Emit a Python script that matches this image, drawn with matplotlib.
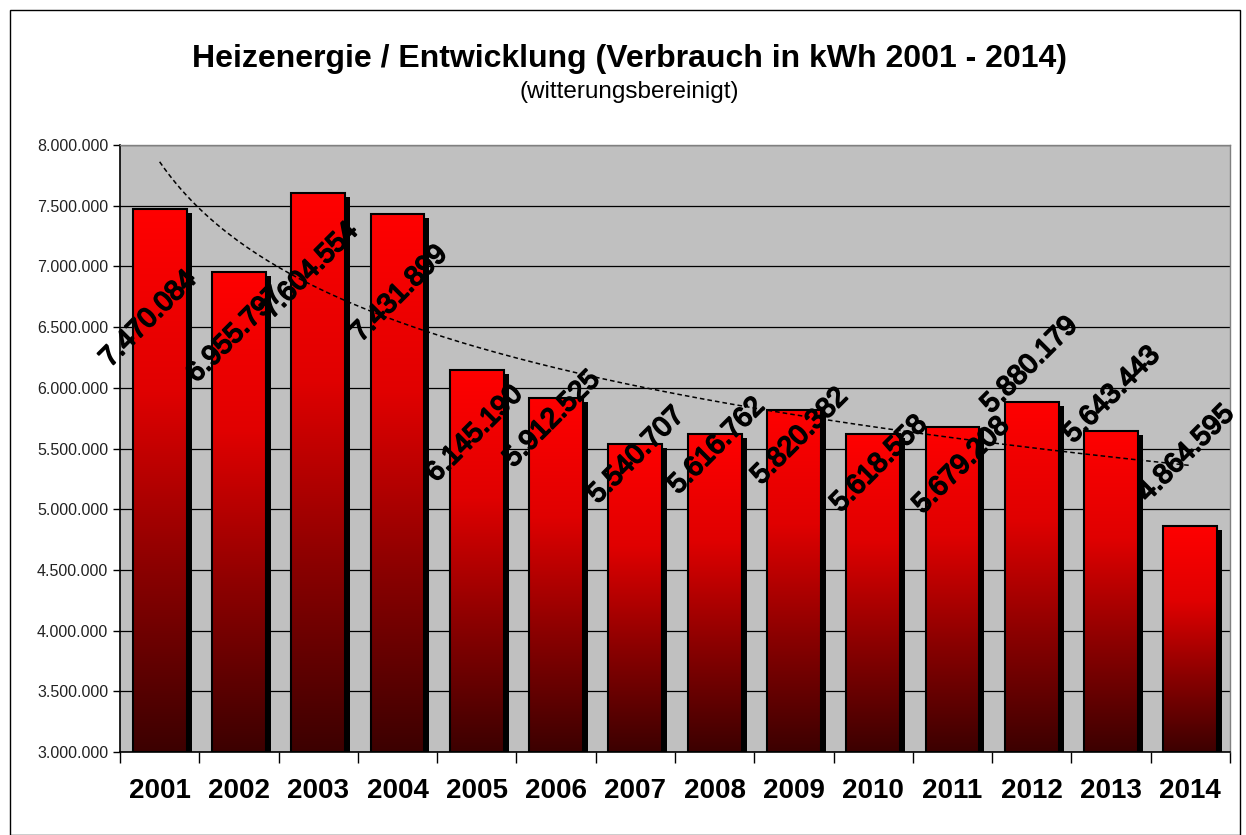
import numpy as np
import matplotlib
matplotlib.use("Agg")
import matplotlib.pyplot as plt
import matplotlib.patheffects as pe
from matplotlib.transforms import offset_copy
from matplotlib.colors import LinearSegmentedColormap
from matplotlib.ticker import FuncFormatter, MultipleLocator

years = ["2001", "2002", "2003", "2004", "2005", "2006", "2007",
         "2008", "2009", "2010", "2011", "2012", "2013", "2014"]
values = [7470084, 6955797, 7604554, 7431899, 6145190, 5912525, 5540707,
          5616762, 5820382, 5618558, 5679208, 5880179, 5643443, 4864595]
title = "Heizenergie / Entwicklung (Verbrauch in kWh 2001 - 2014)"
subtitle = "(witterungsbereinigt)"

plt.rcParams['font.family'] = ['Liberation Sans', 'DejaVu Sans']

fig = plt.figure(figsize=(12.46, 8.35), dpi=100)
ax = fig.add_axes([120/1246, 1-752/835, 1110/1246, 607/835])
ax.set_facecolor("#C0C0C0")

x = np.arange(len(years))
ymin, ymax = 3000000, 8000000
ax.set_xlim(-0.5, len(years) - 0.5)
ax.set_ylim(ymin, ymax)

ax.yaxis.set_major_locator(MultipleLocator(500000))
ax.grid(axis='y', color='black', linewidth=0.9, zorder=0)
ax.set_axisbelow(True)

bw = 0.68
# shadows
shadow_tr = offset_copy(ax.transData, fig=fig, x=5, y=-4, units='dots')
ax.bar(x, np.array(values) - ymin, bottom=ymin, width=bw, color='black',
       transform=shadow_tr, zorder=2, clip_on=True)

cmap = LinearSegmentedColormap.from_list("redgrad", ["#3c0000", "#8a0000", "#e00000", "#ff0000"])
grad = np.linspace(0, 1, 256).reshape(-1, 1)
bars = ax.bar(x, np.array(values) - ymin, bottom=ymin, width=bw,
              facecolor='none', edgecolor='black', linewidth=1.5, zorder=4)
for b in bars:
    x0, y0 = b.get_x(), b.get_y()
    w, h = b.get_width(), b.get_height()
    im = ax.imshow(grad, cmap=cmap, origin='lower', aspect='auto',
                   extent=[x0, x0 + w, y0, y0 + h], zorder=3, interpolation='bilinear')
    im.set_clip_path(b)

# logarithmic trendline (least squares, like Excel)
xt = x + 1
coef = np.polyfit(np.log(xt), values, 1)
xs = np.linspace(1, len(years), 200)
ax.plot(xs - 1, coef[0] * np.log(xs) + coef[1], color='black',
        linestyle=(0, (3, 2)), linewidth=1.1, zorder=5)

# data labels (rotated)
label_dx_px = [-11, -4, -8, 2, -2, -4, 1, 2, 6, 6, 9, -2, 1, -4]
label_dy_px = [110, 63, 78, 80, 64, 21, 12, 12, 27, 30, 39, -37, -36, -72]
for xi, v, dx, dy in zip(x, values, label_dx_px, label_dy_px):
    lab = f"{v:,}".replace(",", ".")
    ax.annotate(lab, (xi, v), xytext=(dx * 0.72, -dy * 0.72), textcoords='offset points',
                rotation=45, rotation_mode='anchor', ha='center', va='center',
                fontsize=20, color='black', zorder=6, annotation_clip=False,
                path_effects=[pe.withStroke(linewidth=1.3, foreground='black')])

ax.yaxis.set_major_formatter(FuncFormatter(lambda v, p: f"{int(v):,}".replace(",", ".")))
ax.tick_params(axis='y', labelsize=11.5, length=5, width=1, colors='black', labelcolor='#222222')
ax.set_xticks(x)
ax.set_xticklabels(years, fontsize=20, fontweight='bold')
ax.set_xticks(np.arange(-0.5, len(years), 1), minor=True)
ax.tick_params(axis='x', which='major', length=0, pad=19)
ax.tick_params(axis='x', which='minor', length=8, width=1)

for s in ['top', 'right']:
    ax.spines[s].set_color('#808080')
    ax.spines[s].set_linewidth(1)
for s in ['left', 'bottom']:
    ax.spines[s].set_color('black')
    ax.spines[s].set_linewidth(1.2)

fig.text(0.505, 0.929, title, ha='center', va='center', fontsize=23, fontweight='bold')
fig.text(0.505, 0.890, subtitle, ha='center', va='center', fontsize=17.5)

# outer border
fig.patches.append(plt.Rectangle((10/1246, 0), 1230/1246, 1 - 10/835, transform=fig.transFigure,
                                 fill=False, edgecolor='black', linewidth=1))

fig.savefig("out.png", dpi=100)
